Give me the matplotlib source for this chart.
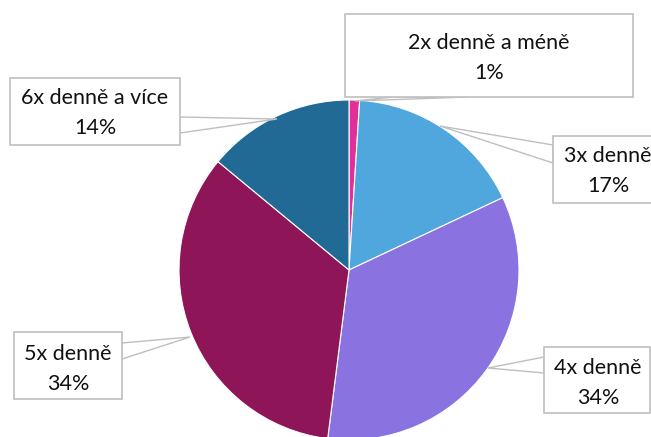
import matplotlib
matplotlib.use("Agg")
import matplotlib.pyplot as plt
from matplotlib.patches import Polygon, Rectangle

categories = ["2x denně a méně", "3x denně", "4x denně", "5x denně", "6x denně a více"]
shares = [1, 17, 34, 34, 14]
colors = ["#E2309A", "#4FA7DD", "#8A73E1", "#8E1558", "#216A95"]

plt.rcParams['font.family'] = ['Lato', 'DejaVu Sans']

fig = plt.figure(figsize=(6.51, 4.37), dpi=100)
ax = fig.add_axes([0, 0, 1, 1])

# pixel coordinates, y pointing down -> go counterclockwise in data = clockwise on screen
ax.pie(shares, colors=colors, startangle=-90, counterclock=True,
       center=(349, 270), radius=170,
       wedgeprops=dict(edgecolor="white", linewidth=0.8))
ax.set_xlim(0, 651)
ax.set_ylim(437, 0)
ax.set_aspect("equal")
ax.axis("off")

# callout boxes: (x0, y0, x1, y1), pointer tip, pointer base points, text centre
callouts = [
    ((345, 14, 633, 97), (355, 101), [(393, 97), (467, 97)], (489, 58)),
    ((553, 136, 680, 203), (440, 126), [(553, 145), (553, 163)], (608, 171)),
    ((544, 347, 650, 413), (488, 368), [(544, 357), (544, 373)], (598, 383)),
    ((14, 332, 122, 399), (190, 337), [(122, 343), (122, 359)], (68, 369)),
    ((10, 78, 180, 145), (277, 119), [(180, 117), (180, 133)], (95, 113)),
]
edge = "#BFBFBF"
for (box, tip, base, tc), cat, val in zip(callouts, categories, shares):
    x0, y0, x1, y1 = box
    ax.add_patch(Polygon([base[0], tip, base[1]], closed=True, facecolor="white",
                         edgecolor=edge, linewidth=1.0, zorder=3))
    ax.add_patch(Rectangle((x0, y0), x1 - x0, y1 - y0, facecolor="white",
                           edgecolor=edge, linewidth=1.2, zorder=4, clip_on=False))
    ax.text(tc[0], tc[1], f"{cat}\n{val}%", ha="center", va="center",
            fontsize=15.5, color="#111111", linespacing=1.62, zorder=5)

fig.savefig("out.png", dpi=100)
